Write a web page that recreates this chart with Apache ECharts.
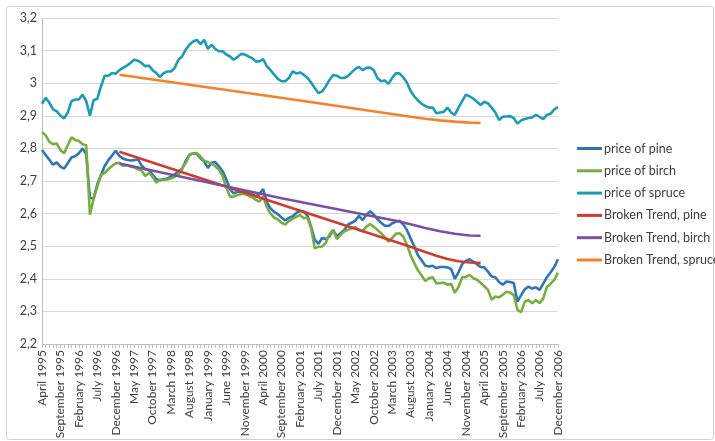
<!DOCTYPE html>
<html>
<head>
<meta charset="utf-8">
<script src="https://cdn.jsdelivr.net/npm/echarts@6/dist/echarts.min.js"></script>
<style>
  html, body { margin: 0; padding: 0; background: #ffffff; }
  #chart { width: 715px; height: 441px; }
</style>
</head>
<body>
<div id="chart"></div>
<script>
// Monthly timber price index, April 1995 – December 2006
const monthNames = ['January', 'February', 'March', 'April', 'May', 'June', 'July',
  'August', 'September', 'October', 'November', 'December'];
const startYear = 1995, startMonth = 3, monthCount = 141;
const months = [];
for (let k = 0; k < monthCount; k++) {
  const m = startMonth + k;
  months.push(monthNames[m % 12] + ' ' + (startYear + Math.floor(m / 12)));
}

const pine = [
  2.795, 2.78, 2.765, 2.75, 2.757, 2.744, 2.738, 2.755, 2.772, 2.776,
  2.785, 2.80, 2.782, 2.648, 2.647, 2.69, 2.718, 2.746, 2.764, 2.778,
  2.793, 2.777, 2.768, 2.765, 2.763, 2.764, 2.767, 2.748, 2.736, 2.734,
  2.72, 2.705, 2.703, 2.705, 2.708, 2.713, 2.72, 2.73, 2.736, 2.762,
  2.78, 2.785, 2.783, 2.77, 2.76, 2.74, 2.756, 2.758, 2.745, 2.73,
  2.705, 2.675, 2.662, 2.667, 2.667, 2.664, 2.662, 2.66, 2.653, 2.66,
  2.675, 2.635, 2.616, 2.605, 2.598, 2.588, 2.579, 2.587, 2.592, 2.602,
  2.608, 2.607, 2.594, 2.56, 2.52, 2.507, 2.525, 2.522, 2.53, 2.55,
  2.53, 2.54, 2.55, 2.566, 2.572, 2.578, 2.593, 2.58, 2.596, 2.607,
  2.597, 2.583, 2.572, 2.563, 2.562, 2.57, 2.575, 2.578, 2.567, 2.55,
  2.524, 2.5, 2.472, 2.457, 2.44, 2.438, 2.44, 2.433, 2.436, 2.436,
  2.435, 2.43, 2.40, 2.42, 2.445, 2.455, 2.46, 2.453, 2.445, 2.436,
  2.435, 2.422, 2.407, 2.405, 2.39, 2.382, 2.392, 2.39, 2.387, 2.33,
  2.35, 2.368, 2.376, 2.37, 2.374, 2.366, 2.385, 2.405, 2.42, 2.436,
  2.46
];

const birch = [
  2.85, 2.84, 2.82, 2.813, 2.815, 2.795, 2.785, 2.81, 2.834, 2.826,
  2.823, 2.813, 2.81, 2.597, 2.645, 2.683, 2.718, 2.725, 2.736, 2.746,
  2.754, 2.756, 2.746, 2.749, 2.744, 2.742, 2.736, 2.732, 2.715, 2.725,
  2.713, 2.695, 2.703, 2.703, 2.705, 2.708, 2.713, 2.72, 2.739, 2.755,
  2.78, 2.785, 2.786, 2.775, 2.762, 2.758, 2.754, 2.745, 2.735, 2.715,
  2.68, 2.652, 2.652, 2.657, 2.66, 2.66, 2.655, 2.65, 2.642, 2.637,
  2.652, 2.62, 2.6, 2.588, 2.582, 2.572, 2.566, 2.577, 2.584, 2.59,
  2.596, 2.586, 2.588, 2.556, 2.494, 2.498, 2.499, 2.51, 2.537, 2.55,
  2.522, 2.535, 2.545, 2.55, 2.555, 2.558, 2.55, 2.546, 2.56, 2.568,
  2.56, 2.55, 2.54, 2.528, 2.514, 2.525, 2.538, 2.54, 2.53, 2.505,
  2.473, 2.448, 2.426, 2.41, 2.393, 2.402, 2.405, 2.386, 2.387, 2.388,
  2.382, 2.385, 2.357, 2.375, 2.405, 2.405, 2.412, 2.402, 2.397, 2.388,
  2.377, 2.366, 2.336, 2.346, 2.343, 2.351, 2.36, 2.358, 2.35, 2.305,
  2.298, 2.33, 2.335, 2.325, 2.335, 2.325, 2.34, 2.375, 2.385, 2.397,
  2.419
];

const spruce = [
  2.937, 2.955, 2.94, 2.92, 2.914, 2.9, 2.892, 2.91, 2.945, 2.95,
  2.95, 2.965, 2.945, 2.90, 2.948, 2.952, 2.99, 3.023, 3.023, 3.031,
  3.029, 3.04, 3.047, 3.054, 3.062, 3.072, 3.069, 3.062, 3.052, 3.054,
  3.04, 3.031, 3.019, 3.031, 3.036, 3.036, 3.047, 3.072, 3.082, 3.103,
  3.118, 3.128, 3.133, 3.12, 3.133, 3.105, 3.118, 3.105, 3.098, 3.098,
  3.088, 3.082, 3.072, 3.08, 3.09, 3.088, 3.082, 3.077, 3.067, 3.067,
  3.074, 3.052, 3.04, 3.026, 3.013, 3.006, 3.006, 3.016, 3.036, 3.03,
  3.033, 3.026, 3.017, 3.002, 2.985, 2.97, 2.975, 2.99, 3.01, 3.025,
  3.023, 3.016, 3.016, 3.022, 3.033, 3.044, 3.05, 3.04, 3.047, 3.048,
  3.04, 3.016, 3.006, 3.008, 2.998, 3.016, 3.03, 3.03, 3.018, 3.002,
  2.976, 2.96, 2.947, 2.937, 2.93, 2.925, 2.925, 2.908, 2.91, 2.912,
  2.925, 2.91, 2.903, 2.925, 2.945, 2.965, 2.96, 2.953, 2.943, 2.933,
  2.943, 2.938, 2.925, 2.91, 2.887, 2.897, 2.898, 2.899, 2.893, 2.876,
  2.886, 2.89, 2.893, 2.895, 2.903, 2.897, 2.89, 2.903, 2.906, 2.92,
  2.927
];

// Broken trend lines: knot months and values
const trendPineMonths = ['January 1997', 'August 2003', 'December 2003', 'March 2004',
  'June 2004', 'September 2004', 'December 2004', 'March 2005'];
const trendPineValues = [2.79, 2.498, 2.482, 2.471, 2.461, 2.454, 2.45, 2.449];

const trendBirchMonths = ['January 1997', 'September 2000', 'May 2003', 'December 2003',
  'April 2004', 'August 2004', 'December 2004', 'March 2005'];
const trendBirchValues = [2.754, 2.647, 2.576, 2.556, 2.546, 2.538, 2.533, 2.532];

const trendSpruceMonths = ['January 1997', 'February 2001', 'August 2003', 'December 2003',
  'April 2004', 'August 2004', 'December 2004', 'March 2005'];
const trendSpruceValues = [3.026, 2.947, 2.897, 2.891, 2.886, 2.882, 2.879, 2.878];

const seriesNames = ['price of pine', 'price of birch', 'price of spruce',
  'Broken Trend, pine', 'Broken Trend, birch', 'Broken Trend, spruce'];
const seriesColors = ['#2E75B6', '#77AE3F', '#1C9BB4', '#D23A2E', '#7D4FA0', '#F5812B'];

const FONT = 'Lato, "Liberation Sans", sans-serif';

function knots(labels, values) {
  return labels.map((lab, k) => [months.indexOf(lab), values[k]]);
}

const priceData = [pine, birch, spruce];
const trendData = [
  knots(trendPineMonths, trendPineValues),
  knots(trendBirchMonths, trendBirchValues),
  knots(trendSpruceMonths, trendSpruceValues)
];

const series = [];
for (let s = 0; s < 6; s++) {
  series.push({
    name: seriesNames[s],
    type: 'line',
    data: s < 3 ? priceData[s] : trendData[s - 3],
    showSymbol: false,
    symbol: 'none',
    smooth: false,
    lineStyle: { color: seriesColors[s], width: 2.6 },
    itemStyle: { color: seriesColors[s] },
    emphasis: { disabled: true }
  });
}

const chart = echarts.init(document.getElementById('chart'), null, { renderer: 'canvas' });
chart.setOption({
  animation: false,
  backgroundColor: '#ffffff',
  graphic: [{
    type: 'rect',
    left: 4, top: 4,
    shape: { width: 707, height: 433, r: 3 },
    style: { fill: 'none', stroke: '#d0d0d0', lineWidth: 1 },
    silent: true
  }],
  grid: { left: 42, right: 157, top: 18, bottom: 97, containLabel: false, outerBoundsMode: 'none' },
  legend: {
    orient: 'vertical',
    left: 577,
    top: 141,
    padding: 0,
    itemWidth: 25,
    itemHeight: 3,
    itemGap: 7.3,
    icon: 'rect',
    data: seriesNames,
    textStyle: { color: '#404040', fontSize: 12.5, lineHeight: 15, fontFamily: FONT, padding: [0, 0, 0, -3] }
  },
  xAxis: {
    type: 'category',
    data: months,
    boundaryGap: false,
    axisLine: { lineStyle: { color: '#bfbfbf', width: 1 } },
    axisTick: { show: true, interval: 0, length: 4, lineStyle: { color: '#bfbfbf' } },
    axisLabel: {
      interval: 4,
      rotate: 90,
      margin: 6,
      color: '#404040',
      fontSize: 12,
      fontFamily: FONT
    },
    splitLine: { show: false }
  },
  yAxis: {
    type: 'value',
    min: 2.2,
    max: 3.2,
    interval: 0.1,
    axisLine: { show: true, lineStyle: { color: '#bfbfbf', width: 1 } },
    axisTick: { show: false },
    axisLabel: {
      margin: 5,
      color: '#404040',
      fontSize: 12.5,
      fontFamily: FONT,
      formatter: v => String(Math.round(v * 10) / 10).replace('.', ',')
    },
    splitLine: { lineStyle: { color: '#d9d9d9', width: 1 } }
  },
  series: series
});
</script>
</body>
</html>
